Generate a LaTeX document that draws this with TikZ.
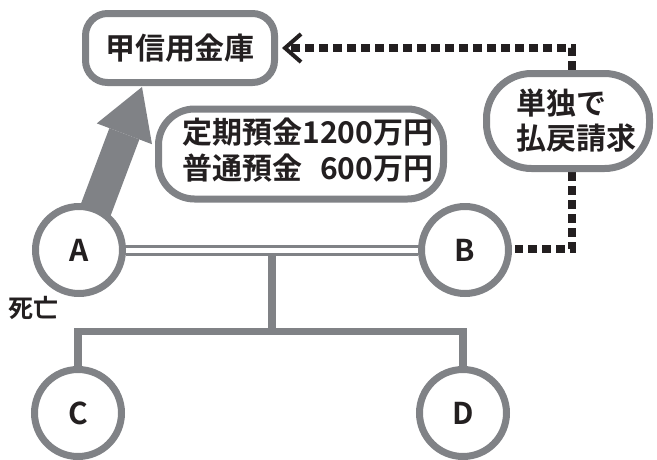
\documentclass[tikz,border=0pt]{standalone}
\usepackage{fontspec}
\setmainfont{Noto Sans CJK JP}[BoldFont={Noto Sans CJK JP Bold}]
\usetikzlibrary{arrows.meta,calc,backgrounds}
\definecolor{gcol}{RGB}{128,130,134}
\definecolor{ink}{RGB}{35,31,32}
\begin{document}
\begin{tikzpicture}[x=1pt,y=-1pt,
  every node/.style={text=ink, font=\bfseries\fontsize{30}{35}\selectfont},
  rbox/.style={draw=gcol, line width=7pt, fill=white, inner sep=0pt},
  person/.style={circle, draw=gcol, line width=7pt, fill=white, minimum size=87pt, inner sep=0pt},
  tree/.style={draw=gcol, line width=7.5pt},
  dline/.style={draw=ink, line width=8pt, dash pattern=on 9pt off 5pt},
  bigarrow/.style={draw=gcol, line width=32pt, -{Triangle[length=50pt,width=59pt,line width=0pt]}}
]
\useasboundingbox (0,0) rectangle (657,459);

\node[rbox, rounded corners=22pt, minimum width=189pt, minimum height=69pt] (bank) at (180,48) {甲信用金庫};
\node[rbox, rounded corners=36pt, minimum width=285pt, minimum height=90pt] (dep) at (301,154)
  {\hspace*{14pt}\raisebox{-5pt}{\begin{tabular}{@{}l@{}r@{}}定期預金&1200万円\\普通預金&600万円\end{tabular}}};
\node[rbox, rounded corners=45pt, minimum width=163pt, minimum height=95pt, align=left] (claim) at (568,121)
  {\hspace*{16pt}単独で\\\hspace*{16pt}払戻請求};

\node[person] (A) at (79,250) {A};
\node[person] (B) at (465,250) {B};
\node[person] (C) at (78,413) {C};
\node[person] (D) at (463,413) {D};
\node[font=\bfseries\fontsize{25}{25}\selectfont] (death) at (34,308) {死亡};

\coordinate (mid) at ($(A)!0.5!(B)$);
\coordinate (bar) at (272,331.5);
\coordinate (k1) at (572,48);
\coordinate (k2) at (572,248.5);
\coordinate (at1) at (90,225);
\coordinate (at2) at (142,87);

\begin{pgfonlayer}{background}
  \fill[white] (0,0) rectangle (657,459);
  \draw[tree] (mid) -- (mid |- bar);
  \draw[tree] (C) -- (C |- bar) -- (D |- bar) -- (D);
  \draw[draw=gcol, line width=3pt, double=white, double distance=5pt] (A) -- (B);
  \draw[bigarrow] (at1) -- (at2);
  \draw[dline, shorten >=-6pt, -{Straight Barb[length=16pt,width=28pt,line width=4pt,sep=10pt]}]
    (claim.north -| k1) -- (k1) -- (bank.east |- k1);
  \draw[dline, shorten >=3pt] (claim.south -| k2) -- (k2) -- (B.east |- k2);
\end{pgfonlayer}
\end{tikzpicture}
\end{document}
